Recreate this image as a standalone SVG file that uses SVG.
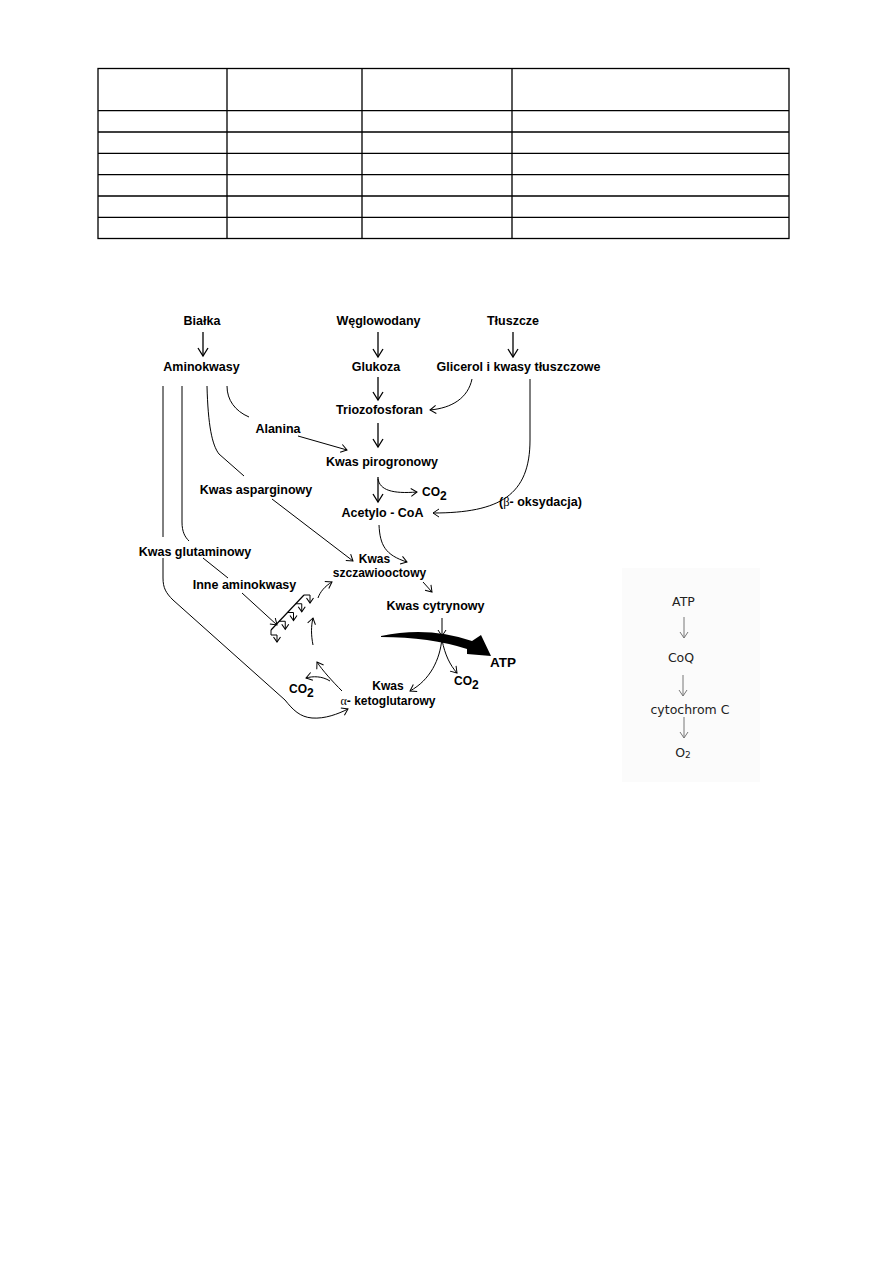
<svg xmlns="http://www.w3.org/2000/svg" width="893" height="1263" viewBox="0 0 893 1263">
<style>
.t{font-family:"Liberation Sans",Arial,sans-serif;font-weight:bold;font-size:12.5px;fill:#000;text-anchor:middle}
.ts{font-family:"Liberation Sans",Arial,sans-serif;font-weight:bold;font-size:12px;fill:#000}
.gr{font-family:"Liberation Serif","DejaVu Serif",serif;font-weight:normal}
.p{font-family:"DejaVu Sans",Verdana,sans-serif;font-size:12.5px;fill:#222;text-anchor:middle}
.c{fill:none;stroke:#000;stroke-width:1}
.cm{fill:none;stroke:#000;stroke-width:1.3}
.cg{fill:none;stroke:#777;stroke-width:1}
.tb{fill:none;stroke:#000;stroke-width:1.3}
</style>
<defs>
<marker id="ah" viewBox="0 0 8 10" refX="8" refY="5" markerWidth="8" markerHeight="10" markerUnits="userSpaceOnUse" orient="auto" overflow="visible">
<path d="M0,0 L8,5 L0,10" fill="none" stroke="#000" stroke-width="1.3"/>
</marker>
<marker id="as" viewBox="0 0 6 8" refX="6" refY="4" markerWidth="6" markerHeight="8" markerUnits="userSpaceOnUse" orient="auto" overflow="visible">
<path d="M0,0 L6,4 L0,8" fill="none" stroke="#000" stroke-width="1"/>
</marker>
<marker id="at" viewBox="0 0 5 7" refX="5" refY="3.5" markerWidth="5" markerHeight="7" markerUnits="userSpaceOnUse" orient="auto" overflow="visible">
<path d="M0,0 L5,3.5 L0,7" fill="none" stroke="#000" stroke-width="1.1"/>
</marker>
<marker id="ag" viewBox="0 0 6 8" refX="6" refY="4" markerWidth="6" markerHeight="8" markerUnits="userSpaceOnUse" orient="auto" overflow="visible">
<path d="M0,0 L6,4 L0,8" fill="none" stroke="#777" stroke-width="1"/>
</marker>
</defs>
<rect width="893" height="1263" fill="#fff"/>

<g id="table">
<rect class="tb" x="98" y="68.5" width="691" height="170"/>
<path class="tb" d="M98,110.7H789M98,132H789M98,153.3H789M98,174.6H789M98,196H789M98,217.3H789M227,68.5V238.5M362,68.5V238.5M512,68.5V238.5"/>
</g>

<g id="connectors">
<path class="cm" d="M203,332V356" marker-end="url(#ah)"/>
<path class="cm" d="M378,332V357" marker-end="url(#ah)"/>
<path class="cm" d="M513,332V357" marker-end="url(#ah)"/>
<path class="cm" d="M378,377V400" marker-end="url(#ah)"/>
<path class="cm" d="M378,423V447" marker-end="url(#ah)"/>
<path class="cm" d="M378,477V502" marker-end="url(#ah)"/>
<path class="c" d="M378,479C380,490 392,494 417,492" marker-end="url(#as)"/>
<path class="c" d="M472,379C468,398 452,408 430,410" marker-end="url(#as)"/>
<path class="c" d="M530,379V440C530,495 500,513 433,513" marker-end="url(#as)"/>
<path class="c" d="M227,386C227,400 235,411 249,417"/>
<path class="c" d="M298,436L347,450" marker-end="url(#as)"/>
<path class="c" d="M207,386C208,425 212,445 219,454L244,476"/>
<path class="c" d="M182,386V522C182,532 185,537 189,541"/>
<path class="c" d="M163,386V537"/>
<path class="c" d="M163,558V578C163,588 166,593 173,600L285,700C293,710 300,717 312,718C325,719 338,714 348,709" marker-end="url(#as)"/>
<path class="c" d="M272,499L353,561" marker-end="url(#as)"/>
<path class="c" d="M203,558L228,578"/>
<path class="c" d="M242,593L277,625" marker-end="url(#as)"/>
<path class="c" d="M318,598C320,592 325,586 332,582" marker-end="url(#as)"/>
<path class="c" d="M313,645C311,635 311,626 313,618" marker-end="url(#as)"/>
<path class="c" d="M342,691C333,682 322,670 317,662" marker-end="url(#as)"/>
<path class="c" d="M330,681C322,676 313,676 306,678" marker-end="url(#as)"/>
<path class="c" d="M379,525C380,545 385,555 407,562" marker-end="url(#as)"/>
<path class="c" d="M423,582L432,592" marker-end="url(#as)"/>
<path class="c" d="M442,618V636" marker-end="url(#as)"/>
<path class="c" d="M442,638C440,660 430,680 410,691" marker-end="url(#as)"/>
<path class="c" d="M442,640C445,655 450,665 457,673" marker-end="url(#as)"/>
<path d="M381,636Q428,626 472,641L481,635L491,656L467,654L467,649Q430,637 381,637Z" fill="#000"/>
</g>

<g id="comb">
<path class="c" d="M271,630L304,595" style="stroke-width:1.2"/>
<path class="c" d="M304,595h6v8" marker-end="url(#at)"/>
<path class="c" d="M295.75,603.75h6v8" marker-end="url(#at)"/>
<path class="c" d="M287.5,612.5h6v8" marker-end="url(#at)"/>
<path class="c" d="M279.25,621.25h6v8" marker-end="url(#at)"/>
<path class="c" d="M271,630v5h6v7" marker-end="url(#at)"/>
</g>

<g id="n-bialka"><text class="t" x="202" y="325">Białka</text></g>
<g id="n-weglowodany"><text class="t" x="378.5" y="325">Węglowodany</text></g>
<g id="n-tluszcze"><text class="t" x="513" y="325">Tłuszcze</text></g>
<g id="n-aminokwasy"><text class="t" x="201.5" y="371">Aminokwasy</text></g>
<g id="n-glukoza"><text class="t" x="376" y="371">Glukoza</text></g>
<g id="n-glicerol"><text class="t" x="518.5" y="371">Glicerol i kwasy tłuszczowe</text></g>
<g id="n-triozofosforan"><text class="t" x="379.5" y="414">Triozofosforan</text></g>
<g id="n-alanina"><text class="t" x="278" y="433">Alanina</text></g>
<g id="n-pirogronowy"><text class="t" x="382" y="466">Kwas pirogronowy</text></g>
<g id="n-co2-a"><text class="ts" x="422" y="496">CO<tspan dy="4">2</tspan></text></g>
<g id="n-acetylo"><text class="t" x="382.5" y="517">Acetylo - CoA</text></g>
<g id="n-beta"><text class="ts" x="499" y="506" style="font-size:12.5px">(<tspan class="gr">β</tspan>- oksydacja)</text></g>
<g id="n-asparginowy"><text class="t" x="256" y="494">Kwas asparginowy</text></g>
<g id="n-glutaminowy"><text class="t" x="195" y="556">Kwas glutaminowy</text></g>
<g id="n-szczawiooctowy"><text class="t" x="374.5" y="563" style="font-size:12px">Kwas</text><text class="t" x="379.5" y="577" style="font-size:12px">szczawiooctowy</text></g>
<g id="n-inne"><text class="t" x="244.5" y="589">Inne aminokwasy</text></g>
<g id="n-cytrynowy"><text class="t" x="435.5" y="610">Kwas cytrynowy</text></g>
<g id="n-atp"><text class="t" x="503" y="667" style="font-size:13.5px">ATP</text></g>
<g id="n-co2-b"><text class="ts" x="454" y="685">CO<tspan dy="4">2</tspan></text></g>
<g id="n-co2-c"><text class="ts" x="289" y="693">CO<tspan dy="4">2</tspan></text></g>
<g id="n-ketoglutarowy"><text class="t" x="388" y="690" style="font-size:12px">Kwas</text><text class="t" x="388" y="705" style="font-size:12px"><tspan class="gr">α</tspan>- ketoglutarowy</text></g>

<g id="panel">
<rect x="622" y="568" width="138" height="214" fill="#fbfbfb"/>
<g id="p-atp"><text class="p" x="683.5" y="606">ATP</text></g>
<g id="p-coq"><text class="p" x="681" y="662">CoQ</text></g>
<g id="p-cyt"><text class="p" x="690" y="714">cytochrom C</text></g>
<g id="p-o2"><text class="p" x="683" y="757">O<tspan font-size="9" dy="1">2</tspan></text></g>
<path class="cg" d="M684,617V638" marker-end="url(#ag)"/>
<path class="cg" d="M683,675V696" marker-end="url(#ag)"/>
<path class="cg" d="M684,717V738" marker-end="url(#ag)"/>
</g>
</svg>
